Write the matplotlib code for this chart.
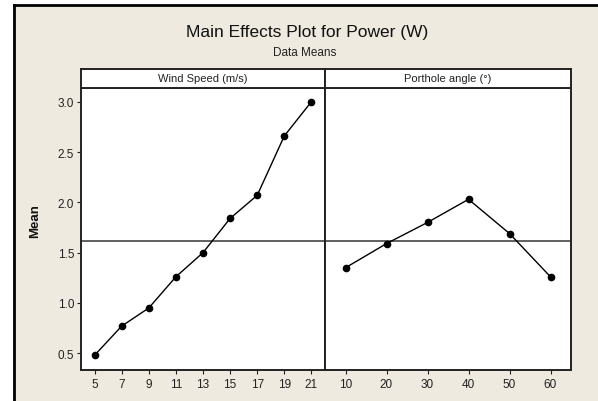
import matplotlib
matplotlib.use("Agg")
import matplotlib.pyplot as plt
from matplotlib.patches import Rectangle
from matplotlib.lines import Line2D

# ---- data ----
wind_speed = ['5', '7', '9', '11', '13', '15', '17', '19', '21']
wind_means = [0.48, 0.77, 0.95, 1.26, 1.50, 1.84, 2.07, 2.66, 3.00]
angle = ['10', '20', '30', '40', '50', '60']
angle_means = [1.35, 1.59, 1.80, 2.03, 1.69, 1.26]
grand_mean = 1.62
y_ticks = [0.5, 1.0, 1.5, 2.0, 2.5, 3.0]
panel_titles = ['Wind Speed (m/s)', 'Porthole angle (°)']

W, H = 598, 402
BEIGE = '#EEEAE0'
FONT = ['Liberation Sans', 'DejaVu Sans']
plt.rcParams['font.family'] = FONT

fig = plt.figure(figsize=(W / 100, H / 100), dpi=100, facecolor='white')

def fx(px):
    return px / W

def fy(py):
    return 1 - py / H

# beige outer panel with black border on top and left
fig.patches.append(Rectangle((fx(14), 0), 1 - fx(14), fy(6), transform=fig.transFigure,
                             facecolor=BEIGE, edgecolor='none', zorder=-10))
fig.lines.append(Line2D([fx(14), fx(14)], [0, fy(6)], transform=fig.transFigure,
                        color='black', lw=2.0, zorder=-5))
fig.lines.append(Line2D([fx(14), 1], [fy(6), fy(6)], transform=fig.transFigure,
                        color='black', lw=2.0, zorder=-5))

fig.text(fx(307), fy(33), 'Main Effects Plot for Power (W)', ha='center', va='center',
         fontsize=12.5, color='#111111')
fig.text(fx(305), fy(53), 'Data Means', ha='center', va='center',
         fontsize=8.5, color='#222222')
fig.text(fx(35), fy(221), 'Mean', ha='center', va='center', rotation=90,
         fontsize=9.5, fontweight='bold', color='#111111')

ax_top, ax_bot = 89, 371
strip_top = 70
panels = [(81, 325), (325, 571)]
datasets = [(wind_speed, wind_means), (angle, angle_means)]

ylo, yhi = 0.334, 3.136
for i, ((x0, x1), (cats, vals), title) in enumerate(zip(panels, datasets, panel_titles)):
    ax = fig.add_axes([fx(x0), fy(ax_bot), fx(x1 - x0), (ax_bot - ax_top) / H])
    ax.set_zorder(2)
    ax.set_facecolor('white')
    ax.plot(cats, vals, color='black', lw=1.0, marker='o', markersize=4.5,
            markerfacecolor='black', markeredgecolor='black', zorder=3)
    ax.axhline(grand_mean, color='#555555', lw=1.3, zorder=2)
    ax.set_xlim(-0.5, len(cats) - 0.5)
    ax.set_ylim(ylo, yhi)
    for s in ax.spines.values():
        s.set_linewidth(1.4)
        s.set_color('#222222')
    ax.tick_params(axis='x', direction='out', length=3, width=0.8, labelsize=8.5,
                   pad=3, colors='#222222')
    if i == 0:
        ax.set_yticks(y_ticks)
        ax.set_yticklabels([f'{v:.1f}' for v in y_ticks])
        ax.tick_params(axis='y', direction='out', length=3, width=0.8, labelsize=8.5,
                       pad=2, colors='#222222')
    else:
        ax.set_yticks([])
    # strip
    sax = fig.add_axes([fx(x0), fy(ax_top), fx(x1 - x0), (ax_top - strip_top) / H])
    sax.set_zorder(2)
    sax.set_facecolor('white')
    sax.set_xticks([])
    sax.set_yticks([])
    for s in sax.spines.values():
        s.set_linewidth(1.4)
        s.set_color('#222222')
    sax.text(0.5, 0.5, title, ha='center', va='center', fontsize=8,
             color='#222222', transform=sax.transAxes)

fig.savefig('out.png', dpi=100, facecolor='white')
